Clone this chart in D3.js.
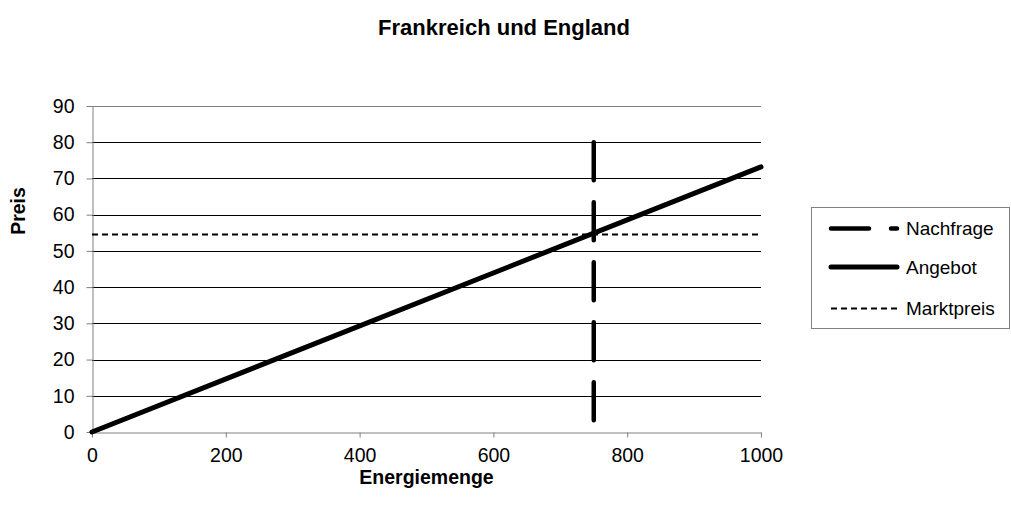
<!DOCTYPE html>
<html>
<head>
<meta charset="utf-8">
<script src="https://cdn.jsdelivr.net/npm/d3@7"></script>
<style>
  body { margin: 0; background: #fff; }
  text { font-family: Arial, "Liberation Sans", sans-serif; fill: #000; }
</style>
</head>
<body>
<svg id="chart"></svg>
<script>
// chart data
var title = "Frankreich und England"
var xTitle = "Energiemenge"
var yTitle = "Preis"
var xTicks = [0, 200, 400, 600, 800, 1000]
var yTicks = [0, 10, 20, 30, 40, 50, 60, 70, 80, 90]

var nachfrage = [{x: 750, y: 80}, {x: 750, y: 0}]
var angebot = [{x: 0, y: 0}, {x: 1000, y: 73.2}]
var marktpreis = [{x: 0, y: 54.5}, {x: 1000, y: 54.5}]

var seriesNames = ["Nachfrage", "Angebot", "Marktpreis"]

// set the dimensions and margins of the graph
var width = 1011, height = 516
var margin = {top: 106, right: 250, bottom: 84, left: 92}

var svg = d3.select("#chart")
    .attr("width", width)
    .attr("height", height)

var x = d3.scaleLinear()
    .domain([0, 1000])
    .range([margin.left, width - margin.right])

var y = d3.scaleLinear()
    .domain([0, 90])
    .range([height - margin.bottom, margin.top])

// gridlines
svg.append("g")
    .selectAll("line")
    .data(yTicks.slice(1))
    .enter()
    .append("line")
        .attr("x1", x(0))
        .attr("x2", x(1000))
        .attr("y1", d => Math.round(y(d)) + 0.5)
        .attr("y2", d => Math.round(y(d)) + 0.5)
        .attr("stroke", d => d == 90 ? "#808080" : "#000")
        .attr("stroke-width", 1)

// axes
var xAxis = svg.append("g")
    .attr("transform", "translate(0," + (Math.round(y(0)) + 0.5) + ")")
    .call(d3.axisBottom(x).tickValues(xTicks).tickFormat(d3.format("d"))
        .tickSize(5).tickSizeOuter(0).tickPadding(11))
xAxis.select(".domain").attr("stroke", "#808080")
xAxis.selectAll(".tick line").attr("stroke", "#808080")
xAxis.selectAll(".tick text").attr("font-size", 19.5).attr("font-family", "Arial, 'Liberation Sans', sans-serif")

var yAxis = svg.append("g")
    .attr("transform", "translate(" + (Math.round(x(0)) + 0.5) + ",0)")
    .call(d3.axisLeft(y).tickValues(yTicks).tickSize(6).tickSizeOuter(0).tickPadding(12))
yAxis.select(".domain").attr("stroke", "#808080")
yAxis.selectAll(".tick line").attr("stroke", "#808080")
yAxis.selectAll(".tick text").attr("font-size", 19.5).attr("font-family", "Arial, 'Liberation Sans', sans-serif")

var line = d3.line()
    .x(d => x(d.x))
    .y(d => y(d.y))

// series styles
var styles = {
    "Nachfrage": {data: nachfrage, width: 4.5, dash: "38,22", cap: "round"},
    "Angebot": {data: angebot, width: 5, dash: null, cap: "round"},
    "Marktpreis": {data: marktpreis, width: 2, dash: "6,4", cap: "butt"}
}

svg.append("g")
    .selectAll("path")
    .data(["Marktpreis", "Nachfrage", "Angebot"])
    .enter()
    .append("path")
        .attr("d", d => line(styles[d].data))
        .attr("fill", "none")
        .attr("stroke", "#000")
        .attr("stroke-width", d => styles[d].width)
        .attr("stroke-dasharray", d => styles[d].dash)
        .attr("stroke-linecap", d => styles[d].cap)

// titles
svg.append("text")
    .attr("x", 504)
    .attr("y", 35)
    .attr("text-anchor", "middle")
    .attr("font-size", 22)
    .attr("font-weight", "bold")
    .text(title)

svg.append("text")
    .attr("x", (x(0) + x(1000)) / 2)
    .attr("y", 484)
    .attr("text-anchor", "middle")
    .attr("font-size", 19.5)
    .attr("font-weight", "bold")
    .text(xTitle)

svg.append("text")
    .attr("transform", "translate(25,211) rotate(-90)")
    .attr("text-anchor", "middle")
    .attr("font-size", 19.5)
    .attr("font-weight", "bold")
    .text(yTitle)

// legend
var legend = svg.append("g")

legend.append("rect")
    .attr("x", 811.5)
    .attr("y", 207.5)
    .attr("width", 198)
    .attr("height", 121)
    .attr("fill", "#fff")
    .attr("stroke", "#808080")

var rows = legend.selectAll("g.row")
    .data(seriesNames)
    .enter()
    .append("g")
        .attr("class", "row")
        .attr("transform", (d, i) => "translate(0," + [228.5, 267, 308.5][i] + ")")

rows.append("line")
    .attr("x1", 831)
    .attr("x2", 897)
    .attr("stroke", "#000")
    .attr("stroke-width", d => styles[d].width)
    .attr("stroke-dasharray", d => styles[d].dash)
    .attr("stroke-linecap", d => styles[d].cap)

rows.append("text")
    .attr("x", 906)
    .attr("dy", "0.35em")
    .attr("font-size", 19)
    .text(d => d)
</script>
</body>
</html>
